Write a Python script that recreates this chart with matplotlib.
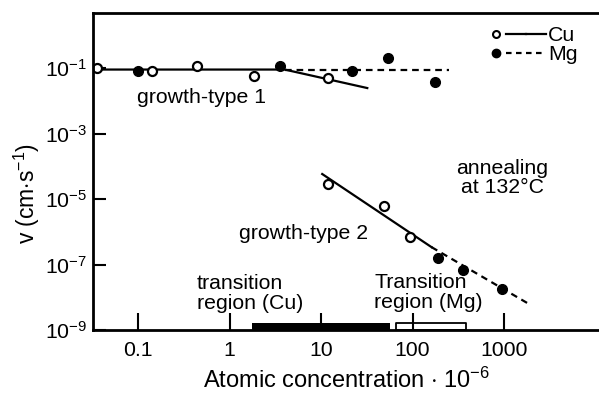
import matplotlib
matplotlib.use("Agg")
from matplotlib import pyplot as plt
from matplotlib.lines import Line2D
from matplotlib.legend_handler import HandlerTuple
import numpy as np

plt.rcParams['font.family'] = ['Liberation Sans', 'DejaVu Sans']
plt.rcParams['mathtext.fontset'] = 'custom'
plt.rcParams['mathtext.rm'] = 'Liberation Sans'
plt.rcParams['mathtext.it'] = 'Liberation Sans:italic'

# growth-type 1 measurements
cu1_x = [0.0356, 0.142, 0.44, 1.85, 11.9]
cu1_v = [0.1, 0.081, 0.115, 0.057, 0.0495]
mg1_x = [0.1, 3.57, 21.8, 54, 174]
mg1_v = [0.08, 0.115, 0.081, 0.2, 0.037]

# growth-type 2 measurements
cu2_x = [11.9, 48.8, 93]
cu2_v = [2.9e-5, 6.2e-6, 6.9e-7]
mg2_x = [188, 354, 950]
mg2_v = [1.6e-7, 6.8e-8, 1.8e-8]

# fitted lines
cu1_fit_x = [0.0322, 4.0, 32.0]
cu1_fit_v = [0.09, 0.09, 0.0245]
mg1_fit_x = [4.0, 250]
mg1_fit_v = [0.09, 0.09]
cu2_fit_x = [10.3, 161]
cu2_fit_v = [5.8e-5, 3.4e-7]
mg2_fit_x = [161, 1875]
mg2_fit_v = [3.4e-7, 6.2e-9]

# transition regions (concentration ranges)
trans_cu = (1.78, 56.8)
trans_mg = (66, 379)

xticks = [0.1, 1, 10, 100, 1000]
xticklabels = ['0.1', '1', '10', '100', '1000']
yticks = [1e-1, 1e-3, 1e-5, 1e-7, 1e-9]
yticklabels = [r'$10^{-1}$', r'$10^{-3}$', r'$10^{-5}$', r'$10^{-7}$', r'$10^{-9}$']

fig = plt.figure(figsize=(5.99, 3.94), dpi=100)
ax = fig.add_axes([93 / 599, 1 - 330 / 394, 1 - 93 / 599, 317 / 394])
ax.set_xscale('log')
ax.set_yscale('log')
ax.set_xlim(0.0322, 10900)
ax.set_ylim(1e-9, 4.8)

fs = 15.3
lw = 1.6
ms = 6.5

ax.plot(cu1_fit_x, cu1_fit_v, color='black', lw=lw)
ax.plot(mg1_fit_x, mg1_fit_v, color='black', lw=lw, dashes=(3, 2.2))
ax.plot(cu2_fit_x, cu2_fit_v, color='black', lw=lw)
ax.plot(mg2_fit_x, mg2_fit_v, color='black', lw=lw, dashes=(3, 2.2))

ax.plot(cu1_x + cu2_x, cu1_v + cu2_v, 'o', ms=ms, mfc='white', mec='black', mew=1.6)
ax.plot(mg1_x + mg2_x, mg1_v + mg2_v, 'o', ms=ms + 0.5, color='black')

ax.fill_between(trans_cu, 1e-9, 1.65e-9, color='black', lw=0)
ax.fill_between(trans_mg, 1e-9, 1.65e-9, facecolor='white', edgecolor='black', lw=1.3)

for s in ['left', 'top', 'bottom']:
    ax.spines[s].set_linewidth(2)
ax.spines['right'].set_visible(False)

ax.set_xticks(xticks)
ax.set_xticklabels(xticklabels)
ax.set_yticks(yticks)
ax.set_yticklabels(yticklabels)
ax.minorticks_off()
ax.tick_params(axis='x', direction='in', length=12, width=1.5, labelsize=fs, pad=8)
ax.tick_params(axis='y', direction='in', length=9, width=1.5, labelsize=fs, pad=4)

ax.set_xlabel(r'Atomic concentration $\cdot$ 10$^{-6}$', fontsize=17)
ax.xaxis.set_label_coords(0.5, -0.12)
ax.set_ylabel(r'v (cm$\cdot$s$^{-1}$)', fontsize=16.5)
ax.yaxis.set_label_coords(-0.1, 0.432)

ax.text(0.49, 0.013, 'growth-type 1', fontsize=fs, ha='center', va='center')
ax.text(6.4, 9e-7, 'growth-type 2', fontsize=fs, ha='center', va='center')
ax.text(950, 4.4e-5, 'annealing\nat 132°C', fontsize=fs, ha='center', va='center',
        linespacing=1.05)
ax.text(0.44, 1.3e-8, 'transition\nregion (Cu)', fontsize=fs, ha='left', va='center',
        linespacing=1.1)
ax.text(38, 1.4e-8, 'Transition\nregion (Mg)', fontsize=fs, ha='left', va='center',
        linespacing=1.1)

h_cu = (Line2D([], [], marker='o', ls='none', ms=5, mfc='white', mec='black', mew=1.5),
        Line2D([], [], color='black', lw=lw), Line2D([], [], color='black', lw=lw))
h_mg = (Line2D([], [], marker='o', ls='none', ms=6, color='black'),
        Line2D([], [], color='black', lw=lw, dashes=(2.5, 2)),
        Line2D([], [], color='black', lw=lw, dashes=(2.5, 2)))
ax.legend([h_cu, h_mg], ['Cu', 'Mg'], handler_map={tuple: HandlerTuple(ndivide=None, pad=0)},
          loc='upper right', bbox_to_anchor=(1.0, 1.026), frameon=False, fontsize=fs,
          handlelength=2.8, handletextpad=0.12, labelspacing=0.0, borderaxespad=0.6)

fig.savefig('out.png', dpi=100)
